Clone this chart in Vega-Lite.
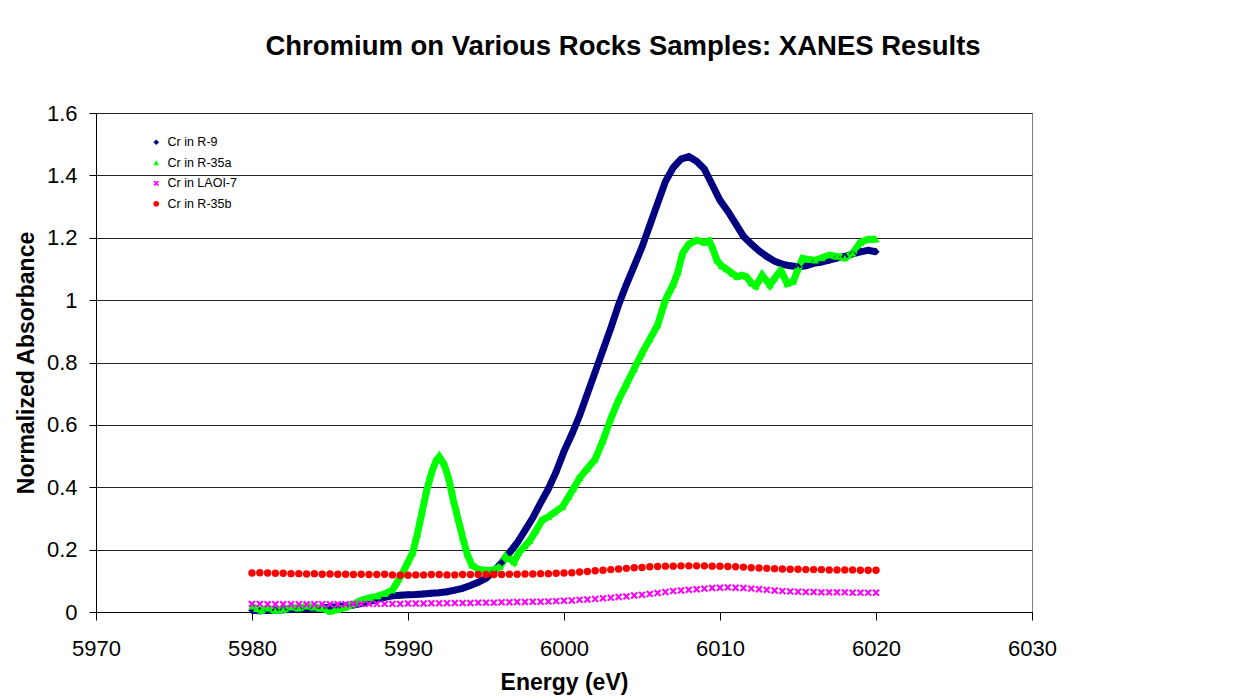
{
  "$schema": "https://vega.github.io/schema/vega-lite/v6.json",
  "width": 936,
  "height": 499,
  "autosize": {"type": "none"},
  "padding": {"left": 96, "top": 113, "right": 206, "bottom": 88},
  "background": "white",
  "config": {
    "font": "Liberation Sans",
    "view": {"stroke": "#808080", "strokeWidth": 1}
  },
  "title": {
    "text": "Chromium on Various Rocks Samples: XANES Results",
    "fontSize": 27.5,
    "fontWeight": "bold",
    "color": "#000000",
    "anchor": "middle",
    "dx": 59,
    "offset": 42
  },
  "data": {
    "values": [
      {"e": 5980, "a": 0.005, "s": "Cr in R-9"},
      {"e": 5980.5, "a": 0.004, "s": "Cr in R-9"},
      {"e": 5981, "a": 0.005, "s": "Cr in R-9"},
      {"e": 5981.5, "a": 0.006, "s": "Cr in R-9"},
      {"e": 5982, "a": 0.007, "s": "Cr in R-9"},
      {"e": 5982.5, "a": 0.008, "s": "Cr in R-9"},
      {"e": 5983, "a": 0.01, "s": "Cr in R-9"},
      {"e": 5983.5, "a": 0.011, "s": "Cr in R-9"},
      {"e": 5984, "a": 0.012, "s": "Cr in R-9"},
      {"e": 5984.5, "a": 0.013, "s": "Cr in R-9"},
      {"e": 5985, "a": 0.015, "s": "Cr in R-9"},
      {"e": 5985.5, "a": 0.017, "s": "Cr in R-9"},
      {"e": 5986, "a": 0.02, "s": "Cr in R-9"},
      {"e": 5986.5, "a": 0.022, "s": "Cr in R-9"},
      {"e": 5987, "a": 0.027, "s": "Cr in R-9"},
      {"e": 5987.5, "a": 0.033, "s": "Cr in R-9"},
      {"e": 5988, "a": 0.04, "s": "Cr in R-9"},
      {"e": 5988.5, "a": 0.047, "s": "Cr in R-9"},
      {"e": 5989, "a": 0.052, "s": "Cr in R-9"},
      {"e": 5989.5, "a": 0.054, "s": "Cr in R-9"},
      {"e": 5990, "a": 0.055, "s": "Cr in R-9"},
      {"e": 5990.5, "a": 0.056, "s": "Cr in R-9"},
      {"e": 5991, "a": 0.058, "s": "Cr in R-9"},
      {"e": 5991.5, "a": 0.06, "s": "Cr in R-9"},
      {"e": 5992, "a": 0.062, "s": "Cr in R-9"},
      {"e": 5992.5, "a": 0.065, "s": "Cr in R-9"},
      {"e": 5993, "a": 0.07, "s": "Cr in R-9"},
      {"e": 5993.5, "a": 0.076, "s": "Cr in R-9"},
      {"e": 5994, "a": 0.085, "s": "Cr in R-9"},
      {"e": 5994.5, "a": 0.095, "s": "Cr in R-9"},
      {"e": 5995, "a": 0.108, "s": "Cr in R-9"},
      {"e": 5995.5, "a": 0.13, "s": "Cr in R-9"},
      {"e": 5996, "a": 0.158, "s": "Cr in R-9"},
      {"e": 5996.5, "a": 0.19, "s": "Cr in R-9"},
      {"e": 5997, "a": 0.222, "s": "Cr in R-9"},
      {"e": 5997.5, "a": 0.262, "s": "Cr in R-9"},
      {"e": 5998, "a": 0.302, "s": "Cr in R-9"},
      {"e": 5998.5, "a": 0.35, "s": "Cr in R-9"},
      {"e": 5999, "a": 0.395, "s": "Cr in R-9"},
      {"e": 5999.5, "a": 0.45, "s": "Cr in R-9"},
      {"e": 6000, "a": 0.515, "s": "Cr in R-9"},
      {"e": 6000.5, "a": 0.57, "s": "Cr in R-9"},
      {"e": 6001, "a": 0.63, "s": "Cr in R-9"},
      {"e": 6001.5, "a": 0.7, "s": "Cr in R-9"},
      {"e": 6002, "a": 0.77, "s": "Cr in R-9"},
      {"e": 6002.5, "a": 0.84, "s": "Cr in R-9"},
      {"e": 6003, "a": 0.91, "s": "Cr in R-9"},
      {"e": 6003.5, "a": 0.985, "s": "Cr in R-9"},
      {"e": 6004, "a": 1.05, "s": "Cr in R-9"},
      {"e": 6004.5, "a": 1.11, "s": "Cr in R-9"},
      {"e": 6005, "a": 1.17, "s": "Cr in R-9"},
      {"e": 6005.5, "a": 1.24, "s": "Cr in R-9"},
      {"e": 6006, "a": 1.31, "s": "Cr in R-9"},
      {"e": 6006.5, "a": 1.38, "s": "Cr in R-9"},
      {"e": 6007, "a": 1.425, "s": "Cr in R-9"},
      {"e": 6007.5, "a": 1.452, "s": "Cr in R-9"},
      {"e": 6008, "a": 1.46, "s": "Cr in R-9"},
      {"e": 6008.5, "a": 1.445, "s": "Cr in R-9"},
      {"e": 6009, "a": 1.42, "s": "Cr in R-9"},
      {"e": 6009.5, "a": 1.37, "s": "Cr in R-9"},
      {"e": 6010, "a": 1.32, "s": "Cr in R-9"},
      {"e": 6010.5, "a": 1.285, "s": "Cr in R-9"},
      {"e": 6011, "a": 1.245, "s": "Cr in R-9"},
      {"e": 6011.5, "a": 1.205, "s": "Cr in R-9"},
      {"e": 6012, "a": 1.18, "s": "Cr in R-9"},
      {"e": 6012.5, "a": 1.158, "s": "Cr in R-9"},
      {"e": 6013, "a": 1.14, "s": "Cr in R-9"},
      {"e": 6013.5, "a": 1.125, "s": "Cr in R-9"},
      {"e": 6014, "a": 1.115, "s": "Cr in R-9"},
      {"e": 6014.5, "a": 1.11, "s": "Cr in R-9"},
      {"e": 6015, "a": 1.107, "s": "Cr in R-9"},
      {"e": 6015.5, "a": 1.11, "s": "Cr in R-9"},
      {"e": 6016, "a": 1.118, "s": "Cr in R-9"},
      {"e": 6016.5, "a": 1.122, "s": "Cr in R-9"},
      {"e": 6017, "a": 1.128, "s": "Cr in R-9"},
      {"e": 6017.5, "a": 1.135, "s": "Cr in R-9"},
      {"e": 6018, "a": 1.14, "s": "Cr in R-9"},
      {"e": 6018.5, "a": 1.148, "s": "Cr in R-9"},
      {"e": 6019, "a": 1.155, "s": "Cr in R-9"},
      {"e": 6019.5, "a": 1.16, "s": "Cr in R-9"},
      {"e": 6020, "a": 1.155, "s": "Cr in R-9"},

      {"e": 5980, "a": 0.018, "s": "Cr in R-35a"},
      {"e": 5980.3, "a": 0.01, "s": "Cr in R-35a"},
      {"e": 5980.6, "a": 0.005, "s": "Cr in R-35a"},
      {"e": 5981, "a": 0.012, "s": "Cr in R-35a"},
      {"e": 5981.5, "a": 0.005, "s": "Cr in R-35a"},
      {"e": 5982, "a": 0.008, "s": "Cr in R-35a"},
      {"e": 5982.5, "a": 0.015, "s": "Cr in R-35a"},
      {"e": 5983, "a": 0.012, "s": "Cr in R-35a"},
      {"e": 5983.5, "a": 0.018, "s": "Cr in R-35a"},
      {"e": 5984, "a": 0.015, "s": "Cr in R-35a"},
      {"e": 5984.5, "a": 0.012, "s": "Cr in R-35a"},
      {"e": 5985, "a": 0.002, "s": "Cr in R-35a"},
      {"e": 5985.5, "a": 0.008, "s": "Cr in R-35a"},
      {"e": 5986, "a": 0.015, "s": "Cr in R-35a"},
      {"e": 5986.5, "a": 0.025, "s": "Cr in R-35a"},
      {"e": 5987, "a": 0.038, "s": "Cr in R-35a"},
      {"e": 5987.5, "a": 0.045, "s": "Cr in R-35a"},
      {"e": 5988, "a": 0.05, "s": "Cr in R-35a"},
      {"e": 5988.5, "a": 0.058, "s": "Cr in R-35a"},
      {"e": 5989, "a": 0.07, "s": "Cr in R-35a"},
      {"e": 5989.3, "a": 0.095, "s": "Cr in R-35a"},
      {"e": 5989.6, "a": 0.12, "s": "Cr in R-35a"},
      {"e": 5990, "a": 0.16, "s": "Cr in R-35a"},
      {"e": 5990.3, "a": 0.19, "s": "Cr in R-35a"},
      {"e": 5990.6, "a": 0.25, "s": "Cr in R-35a"},
      {"e": 5990.9, "a": 0.32, "s": "Cr in R-35a"},
      {"e": 5991.2, "a": 0.39, "s": "Cr in R-35a"},
      {"e": 5991.5, "a": 0.445, "s": "Cr in R-35a"},
      {"e": 5991.8, "a": 0.485, "s": "Cr in R-35a"},
      {"e": 5992, "a": 0.498, "s": "Cr in R-35a"},
      {"e": 5992.3, "a": 0.475, "s": "Cr in R-35a"},
      {"e": 5992.6, "a": 0.43, "s": "Cr in R-35a"},
      {"e": 5992.9, "a": 0.36, "s": "Cr in R-35a"},
      {"e": 5993.2, "a": 0.3, "s": "Cr in R-35a"},
      {"e": 5993.5, "a": 0.24, "s": "Cr in R-35a"},
      {"e": 5993.8, "a": 0.185, "s": "Cr in R-35a"},
      {"e": 5994.1, "a": 0.15, "s": "Cr in R-35a"},
      {"e": 5994.5, "a": 0.137, "s": "Cr in R-35a"},
      {"e": 5995, "a": 0.133, "s": "Cr in R-35a"},
      {"e": 5995.5, "a": 0.135, "s": "Cr in R-35a"},
      {"e": 5995.9, "a": 0.145, "s": "Cr in R-35a"},
      {"e": 5996.3, "a": 0.18, "s": "Cr in R-35a"},
      {"e": 5996.8, "a": 0.16, "s": "Cr in R-35a"},
      {"e": 5997.1, "a": 0.19, "s": "Cr in R-35a"},
      {"e": 5997.5, "a": 0.212, "s": "Cr in R-35a"},
      {"e": 5997.8, "a": 0.228, "s": "Cr in R-35a"},
      {"e": 5998.2, "a": 0.26, "s": "Cr in R-35a"},
      {"e": 5998.6, "a": 0.295, "s": "Cr in R-35a"},
      {"e": 5999, "a": 0.305, "s": "Cr in R-35a"},
      {"e": 5999.4, "a": 0.32, "s": "Cr in R-35a"},
      {"e": 5999.9, "a": 0.337, "s": "Cr in R-35a"},
      {"e": 6000.3, "a": 0.37, "s": "Cr in R-35a"},
      {"e": 6000.6, "a": 0.395, "s": "Cr in R-35a"},
      {"e": 6001, "a": 0.43, "s": "Cr in R-35a"},
      {"e": 6001.5, "a": 0.46, "s": "Cr in R-35a"},
      {"e": 6002, "a": 0.49, "s": "Cr in R-35a"},
      {"e": 6002.5, "a": 0.55, "s": "Cr in R-35a"},
      {"e": 6003, "a": 0.62, "s": "Cr in R-35a"},
      {"e": 6003.5, "a": 0.68, "s": "Cr in R-35a"},
      {"e": 6004, "a": 0.73, "s": "Cr in R-35a"},
      {"e": 6004.5, "a": 0.78, "s": "Cr in R-35a"},
      {"e": 6005, "a": 0.83, "s": "Cr in R-35a"},
      {"e": 6005.5, "a": 0.875, "s": "Cr in R-35a"},
      {"e": 6006, "a": 0.92, "s": "Cr in R-35a"},
      {"e": 6006.5, "a": 1.0, "s": "Cr in R-35a"},
      {"e": 6007, "a": 1.05, "s": "Cr in R-35a"},
      {"e": 6007.3, "a": 1.09, "s": "Cr in R-35a"},
      {"e": 6007.6, "a": 1.15, "s": "Cr in R-35a"},
      {"e": 6008, "a": 1.18, "s": "Cr in R-35a"},
      {"e": 6008.5, "a": 1.192, "s": "Cr in R-35a"},
      {"e": 6009, "a": 1.185, "s": "Cr in R-35a"},
      {"e": 6009.3, "a": 1.19, "s": "Cr in R-35a"},
      {"e": 6009.5, "a": 1.17, "s": "Cr in R-35a"},
      {"e": 6009.8, "a": 1.128, "s": "Cr in R-35a"},
      {"e": 6010.1, "a": 1.11, "s": "Cr in R-35a"},
      {"e": 6010.4, "a": 1.1, "s": "Cr in R-35a"},
      {"e": 6010.8, "a": 1.085, "s": "Cr in R-35a"},
      {"e": 6011.1, "a": 1.075, "s": "Cr in R-35a"},
      {"e": 6011.4, "a": 1.08, "s": "Cr in R-35a"},
      {"e": 6011.7, "a": 1.075, "s": "Cr in R-35a"},
      {"e": 6012, "a": 1.055, "s": "Cr in R-35a"},
      {"e": 6012.3, "a": 1.045, "s": "Cr in R-35a"},
      {"e": 6012.7, "a": 1.08, "s": "Cr in R-35a"},
      {"e": 6013.2, "a": 1.048, "s": "Cr in R-35a"},
      {"e": 6013.5, "a": 1.07, "s": "Cr in R-35a"},
      {"e": 6013.9, "a": 1.096, "s": "Cr in R-35a"},
      {"e": 6014.3, "a": 1.053, "s": "Cr in R-35a"},
      {"e": 6014.7, "a": 1.06, "s": "Cr in R-35a"},
      {"e": 6015, "a": 1.1, "s": "Cr in R-35a"},
      {"e": 6015.3, "a": 1.134, "s": "Cr in R-35a"},
      {"e": 6015.7, "a": 1.13, "s": "Cr in R-35a"},
      {"e": 6016.1, "a": 1.128, "s": "Cr in R-35a"},
      {"e": 6016.5, "a": 1.135, "s": "Cr in R-35a"},
      {"e": 6017, "a": 1.144, "s": "Cr in R-35a"},
      {"e": 6017.5, "a": 1.14, "s": "Cr in R-35a"},
      {"e": 6018, "a": 1.135, "s": "Cr in R-35a"},
      {"e": 6018.5, "a": 1.15, "s": "Cr in R-35a"},
      {"e": 6019, "a": 1.185, "s": "Cr in R-35a"},
      {"e": 6019.5, "a": 1.195, "s": "Cr in R-35a"},
      {"e": 6020, "a": 1.195, "s": "Cr in R-35a"},

      {"e": 5980, "a": 0.026, "s": "Cr in LAOI-7"},
      {"e": 5980.5, "a": 0.026, "s": "Cr in LAOI-7"},
      {"e": 5981, "a": 0.025, "s": "Cr in LAOI-7"},
      {"e": 5981.5, "a": 0.025, "s": "Cr in LAOI-7"},
      {"e": 5982, "a": 0.025, "s": "Cr in LAOI-7"},
      {"e": 5982.5, "a": 0.025, "s": "Cr in LAOI-7"},
      {"e": 5983, "a": 0.025, "s": "Cr in LAOI-7"},
      {"e": 5983.5, "a": 0.025, "s": "Cr in LAOI-7"},
      {"e": 5984, "a": 0.025, "s": "Cr in LAOI-7"},
      {"e": 5984.5, "a": 0.025, "s": "Cr in LAOI-7"},
      {"e": 5985, "a": 0.025, "s": "Cr in LAOI-7"},
      {"e": 5985.5, "a": 0.025, "s": "Cr in LAOI-7"},
      {"e": 5986, "a": 0.025, "s": "Cr in LAOI-7"},
      {"e": 5986.5, "a": 0.026, "s": "Cr in LAOI-7"},
      {"e": 5987, "a": 0.026, "s": "Cr in LAOI-7"},
      {"e": 5987.5, "a": 0.026, "s": "Cr in LAOI-7"},
      {"e": 5988, "a": 0.026, "s": "Cr in LAOI-7"},
      {"e": 5988.5, "a": 0.026, "s": "Cr in LAOI-7"},
      {"e": 5989, "a": 0.026, "s": "Cr in LAOI-7"},
      {"e": 5989.5, "a": 0.026, "s": "Cr in LAOI-7"},
      {"e": 5990, "a": 0.027, "s": "Cr in LAOI-7"},
      {"e": 5990.5, "a": 0.027, "s": "Cr in LAOI-7"},
      {"e": 5991, "a": 0.027, "s": "Cr in LAOI-7"},
      {"e": 5991.5, "a": 0.028, "s": "Cr in LAOI-7"},
      {"e": 5992, "a": 0.028, "s": "Cr in LAOI-7"},
      {"e": 5992.5, "a": 0.028, "s": "Cr in LAOI-7"},
      {"e": 5993, "a": 0.029, "s": "Cr in LAOI-7"},
      {"e": 5993.5, "a": 0.029, "s": "Cr in LAOI-7"},
      {"e": 5994, "a": 0.029, "s": "Cr in LAOI-7"},
      {"e": 5994.5, "a": 0.03, "s": "Cr in LAOI-7"},
      {"e": 5995, "a": 0.03, "s": "Cr in LAOI-7"},
      {"e": 5995.5, "a": 0.03, "s": "Cr in LAOI-7"},
      {"e": 5996, "a": 0.031, "s": "Cr in LAOI-7"},
      {"e": 5996.5, "a": 0.031, "s": "Cr in LAOI-7"},
      {"e": 5997, "a": 0.032, "s": "Cr in LAOI-7"},
      {"e": 5997.5, "a": 0.032, "s": "Cr in LAOI-7"},
      {"e": 5998, "a": 0.033, "s": "Cr in LAOI-7"},
      {"e": 5998.5, "a": 0.033, "s": "Cr in LAOI-7"},
      {"e": 5999, "a": 0.034, "s": "Cr in LAOI-7"},
      {"e": 5999.5, "a": 0.035, "s": "Cr in LAOI-7"},
      {"e": 6000, "a": 0.036, "s": "Cr in LAOI-7"},
      {"e": 6000.5, "a": 0.037, "s": "Cr in LAOI-7"},
      {"e": 6001, "a": 0.039, "s": "Cr in LAOI-7"},
      {"e": 6001.5, "a": 0.04, "s": "Cr in LAOI-7"},
      {"e": 6002, "a": 0.042, "s": "Cr in LAOI-7"},
      {"e": 6002.5, "a": 0.044, "s": "Cr in LAOI-7"},
      {"e": 6003, "a": 0.046, "s": "Cr in LAOI-7"},
      {"e": 6003.5, "a": 0.048, "s": "Cr in LAOI-7"},
      {"e": 6004, "a": 0.05, "s": "Cr in LAOI-7"},
      {"e": 6004.5, "a": 0.053, "s": "Cr in LAOI-7"},
      {"e": 6005, "a": 0.055, "s": "Cr in LAOI-7"},
      {"e": 6005.5, "a": 0.058, "s": "Cr in LAOI-7"},
      {"e": 6006, "a": 0.061, "s": "Cr in LAOI-7"},
      {"e": 6006.5, "a": 0.064, "s": "Cr in LAOI-7"},
      {"e": 6007, "a": 0.067, "s": "Cr in LAOI-7"},
      {"e": 6007.5, "a": 0.069, "s": "Cr in LAOI-7"},
      {"e": 6008, "a": 0.071, "s": "Cr in LAOI-7"},
      {"e": 6008.5, "a": 0.073, "s": "Cr in LAOI-7"},
      {"e": 6009, "a": 0.075, "s": "Cr in LAOI-7"},
      {"e": 6009.5, "a": 0.077, "s": "Cr in LAOI-7"},
      {"e": 6010, "a": 0.078, "s": "Cr in LAOI-7"},
      {"e": 6010.5, "a": 0.079, "s": "Cr in LAOI-7"},
      {"e": 6011, "a": 0.078, "s": "Cr in LAOI-7"},
      {"e": 6011.5, "a": 0.077, "s": "Cr in LAOI-7"},
      {"e": 6012, "a": 0.075, "s": "Cr in LAOI-7"},
      {"e": 6012.5, "a": 0.073, "s": "Cr in LAOI-7"},
      {"e": 6013, "a": 0.071, "s": "Cr in LAOI-7"},
      {"e": 6013.5, "a": 0.069, "s": "Cr in LAOI-7"},
      {"e": 6014, "a": 0.067, "s": "Cr in LAOI-7"},
      {"e": 6014.5, "a": 0.066, "s": "Cr in LAOI-7"},
      {"e": 6015, "a": 0.065, "s": "Cr in LAOI-7"},
      {"e": 6015.5, "a": 0.064, "s": "Cr in LAOI-7"},
      {"e": 6016, "a": 0.064, "s": "Cr in LAOI-7"},
      {"e": 6016.5, "a": 0.063, "s": "Cr in LAOI-7"},
      {"e": 6017, "a": 0.063, "s": "Cr in LAOI-7"},
      {"e": 6017.5, "a": 0.063, "s": "Cr in LAOI-7"},
      {"e": 6018, "a": 0.063, "s": "Cr in LAOI-7"},
      {"e": 6018.5, "a": 0.062, "s": "Cr in LAOI-7"},
      {"e": 6019, "a": 0.062, "s": "Cr in LAOI-7"},
      {"e": 6019.5, "a": 0.062, "s": "Cr in LAOI-7"},
      {"e": 6020, "a": 0.062, "s": "Cr in LAOI-7"},

      {"e": 5980, "a": 0.125, "s": "Cr in R-35b"},
      {"e": 5980.5, "a": 0.126, "s": "Cr in R-35b"},
      {"e": 5981, "a": 0.125, "s": "Cr in R-35b"},
      {"e": 5981.5, "a": 0.124, "s": "Cr in R-35b"},
      {"e": 5982, "a": 0.124, "s": "Cr in R-35b"},
      {"e": 5982.5, "a": 0.123, "s": "Cr in R-35b"},
      {"e": 5983, "a": 0.123, "s": "Cr in R-35b"},
      {"e": 5983.5, "a": 0.122, "s": "Cr in R-35b"},
      {"e": 5984, "a": 0.123, "s": "Cr in R-35b"},
      {"e": 5984.5, "a": 0.121, "s": "Cr in R-35b"},
      {"e": 5985, "a": 0.122, "s": "Cr in R-35b"},
      {"e": 5985.5, "a": 0.121, "s": "Cr in R-35b"},
      {"e": 5986, "a": 0.121, "s": "Cr in R-35b"},
      {"e": 5986.5, "a": 0.12, "s": "Cr in R-35b"},
      {"e": 5987, "a": 0.121, "s": "Cr in R-35b"},
      {"e": 5987.5, "a": 0.12, "s": "Cr in R-35b"},
      {"e": 5988, "a": 0.12, "s": "Cr in R-35b"},
      {"e": 5988.5, "a": 0.121, "s": "Cr in R-35b"},
      {"e": 5989, "a": 0.119, "s": "Cr in R-35b"},
      {"e": 5989.5, "a": 0.118, "s": "Cr in R-35b"},
      {"e": 5990, "a": 0.118, "s": "Cr in R-35b"},
      {"e": 5990.5, "a": 0.119, "s": "Cr in R-35b"},
      {"e": 5991, "a": 0.119, "s": "Cr in R-35b"},
      {"e": 5991.5, "a": 0.12, "s": "Cr in R-35b"},
      {"e": 5992, "a": 0.12, "s": "Cr in R-35b"},
      {"e": 5992.5, "a": 0.119, "s": "Cr in R-35b"},
      {"e": 5993, "a": 0.119, "s": "Cr in R-35b"},
      {"e": 5993.5, "a": 0.12, "s": "Cr in R-35b"},
      {"e": 5994, "a": 0.12, "s": "Cr in R-35b"},
      {"e": 5994.5, "a": 0.12, "s": "Cr in R-35b"},
      {"e": 5995, "a": 0.12, "s": "Cr in R-35b"},
      {"e": 5995.5, "a": 0.12, "s": "Cr in R-35b"},
      {"e": 5996, "a": 0.12, "s": "Cr in R-35b"},
      {"e": 5996.5, "a": 0.121, "s": "Cr in R-35b"},
      {"e": 5997, "a": 0.121, "s": "Cr in R-35b"},
      {"e": 5997.5, "a": 0.122, "s": "Cr in R-35b"},
      {"e": 5998, "a": 0.122, "s": "Cr in R-35b"},
      {"e": 5998.5, "a": 0.123, "s": "Cr in R-35b"},
      {"e": 5999, "a": 0.123, "s": "Cr in R-35b"},
      {"e": 5999.5, "a": 0.124, "s": "Cr in R-35b"},
      {"e": 6000, "a": 0.125, "s": "Cr in R-35b"},
      {"e": 6000.5, "a": 0.126, "s": "Cr in R-35b"},
      {"e": 6001, "a": 0.128, "s": "Cr in R-35b"},
      {"e": 6001.5, "a": 0.13, "s": "Cr in R-35b"},
      {"e": 6002, "a": 0.132, "s": "Cr in R-35b"},
      {"e": 6002.5, "a": 0.134, "s": "Cr in R-35b"},
      {"e": 6003, "a": 0.136, "s": "Cr in R-35b"},
      {"e": 6003.5, "a": 0.138, "s": "Cr in R-35b"},
      {"e": 6004, "a": 0.14, "s": "Cr in R-35b"},
      {"e": 6004.5, "a": 0.142, "s": "Cr in R-35b"},
      {"e": 6005, "a": 0.143, "s": "Cr in R-35b"},
      {"e": 6005.5, "a": 0.145, "s": "Cr in R-35b"},
      {"e": 6006, "a": 0.146, "s": "Cr in R-35b"},
      {"e": 6006.5, "a": 0.147, "s": "Cr in R-35b"},
      {"e": 6007, "a": 0.147, "s": "Cr in R-35b"},
      {"e": 6007.5, "a": 0.148, "s": "Cr in R-35b"},
      {"e": 6008, "a": 0.148, "s": "Cr in R-35b"},
      {"e": 6008.5, "a": 0.148, "s": "Cr in R-35b"},
      {"e": 6009, "a": 0.148, "s": "Cr in R-35b"},
      {"e": 6009.5, "a": 0.147, "s": "Cr in R-35b"},
      {"e": 6010, "a": 0.147, "s": "Cr in R-35b"},
      {"e": 6010.5, "a": 0.146, "s": "Cr in R-35b"},
      {"e": 6011, "a": 0.145, "s": "Cr in R-35b"},
      {"e": 6011.5, "a": 0.144, "s": "Cr in R-35b"},
      {"e": 6012, "a": 0.142, "s": "Cr in R-35b"},
      {"e": 6012.5, "a": 0.141, "s": "Cr in R-35b"},
      {"e": 6013, "a": 0.14, "s": "Cr in R-35b"},
      {"e": 6013.5, "a": 0.139, "s": "Cr in R-35b"},
      {"e": 6014, "a": 0.138, "s": "Cr in R-35b"},
      {"e": 6014.5, "a": 0.137, "s": "Cr in R-35b"},
      {"e": 6015, "a": 0.137, "s": "Cr in R-35b"},
      {"e": 6015.5, "a": 0.136, "s": "Cr in R-35b"},
      {"e": 6016, "a": 0.136, "s": "Cr in R-35b"},
      {"e": 6016.5, "a": 0.136, "s": "Cr in R-35b"},
      {"e": 6017, "a": 0.135, "s": "Cr in R-35b"},
      {"e": 6017.5, "a": 0.135, "s": "Cr in R-35b"},
      {"e": 6018, "a": 0.135, "s": "Cr in R-35b"},
      {"e": 6018.5, "a": 0.135, "s": "Cr in R-35b"},
      {"e": 6019, "a": 0.134, "s": "Cr in R-35b"},
      {"e": 6019.5, "a": 0.134, "s": "Cr in R-35b"},
      {"e": 6020, "a": 0.134, "s": "Cr in R-35b"}
    ]
  },
  "encoding": {
    "x": {
      "field": "e",
      "type": "quantitative",
      "scale": {"domain": [5970, 6030], "nice": false, "zero": false},
      "axis": {
        "title": "Energy (eV)",
        "values": [5970, 5980, 5990, 6000, 6010, 6020, 6030],
        "format": "d",
        "grid": false,
        "labelFlush": false,
        "domainColor": "#000000",
        "tickColor": "#000000",
        "tickSize": 8,
        "labelFontSize": 22,
        "labelColor": "#000000",
        "labelPadding": 18,
        "titleFontSize": 23,
        "titleFontWeight": "bold",
        "titleColor": "#000000",
        "titlePadding": 12
      }
    },
    "y": {
      "field": "a",
      "type": "quantitative",
      "scale": {"domain": [0, 1.6], "nice": false},
      "axis": {
        "title": "Normalized Absorbance",
        "values": [0, 0.2, 0.4, 0.6, 0.8, 1, 1.2, 1.4, 1.6],
        "format": "~g",
        "grid": true,
        "labelFlush": false,
        "gridColor": "#222222",
        "gridWidth": 1,
        "domainColor": "#000000",
        "tickColor": "#000000",
        "tickSize": 7,
        "labelFontSize": 22,
        "labelColor": "#000000",
        "labelPadding": 12,
        "titleFontSize": 23,
        "titleFontWeight": "bold",
        "titleColor": "#000000",
        "titlePadding": 8
      }
    }
  },
  "layer": [
    {
      "transform": [{"filter": {"field": "s", "oneOf": ["Cr in R-9", "Cr in R-35a"]}}],
      "mark": {"type": "line", "strokeWidth": 7, "interpolate": "linear"},
      "encoding": {
        "stroke": {
          "field": "s",
          "type": "nominal",
          "scale": {
            "domain": ["Cr in R-9", "Cr in R-35a"],
            "range": ["#000080", "#00FF00"]
          },
          "legend": null
        }
      }
    },
    {
      "mark": {"type": "point", "filled": true, "opacity": 1, "size": 55},
      "encoding": {
        "color": {
          "field": "s",
          "type": "nominal",
          "scale": {
            "domain": ["Cr in R-9", "Cr in R-35a", "Cr in LAOI-7", "Cr in R-35b"],
            "range": ["#000080", "#00FF00", "#FF00FF", "#FF0000"]
          },
          "legend": {
            "title": null,
            "orient": "none",
            "legendX": 54,
            "legendY": 23,
            "padding": 0,
            "symbolSize": 32,
            "labelFontSize": 12.5,
            "labelColor": "#000000",
            "labelOffset": 5,
            "rowPadding": 7.5
          }
        },
        "shape": {
          "field": "s",
          "type": "nominal",
          "scale": {
            "domain": ["Cr in R-9", "Cr in R-35a", "Cr in LAOI-7", "Cr in R-35b"],
            "range": ["diamond", "triangle-up", "M-1,-0.6L-0.6,-1L0,-0.4L0.6,-1L1,-0.6L0.4,0L1,0.6L0.6,1L0,0.4L-0.6,1L-1,0.6L-0.4,0Z", "circle"]
          },
          "legend": {
            "title": null,
            "orient": "none",
            "legendX": 54,
            "legendY": 23,
            "padding": 0,
            "symbolSize": 32,
            "labelFontSize": 12.5,
            "labelColor": "#000000",
            "labelOffset": 5,
            "rowPadding": 7.5
          }
        }
      }
    }
  ]
}
